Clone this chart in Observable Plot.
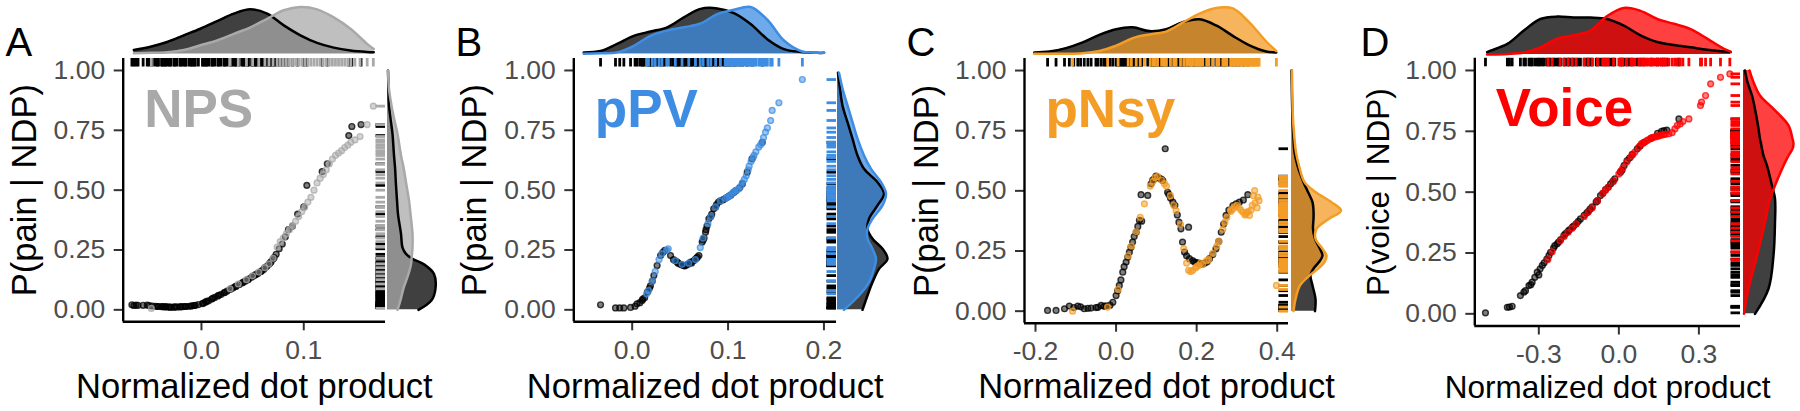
<!DOCTYPE html>
<html><head><meta charset="utf-8">
<script src="https://cdn.jsdelivr.net/npm/d3@7"></script>
<script src="https://cdn.jsdelivr.net/npm/@observablehq/plot@0.6"></script>
<style>
html,body{margin:0;padding:0;background:#fff;}
#fig{position:relative;width:1800px;height:411px;overflow:hidden;background:#fff;}
#fig > svg{position:absolute;}
</style></head><body><div id="fig"></div>
<script>
// ---------------- DATA ----------------
const yTicks = [0, 0.25, 0.5, 0.75, 1];
const xLabel = "Normalized dot product";

// Panel A: NPS
const npsXTicks = [0, 0.1];
const npsBlackX = [-0.068,-0.066,-0.064,-0.062,-0.053,-0.051,-0.048,-0.045,-0.042,-0.039,-0.036,-0.033,-0.030,-0.027,-0.024,-0.021,-0.018,-0.015,-0.012,-0.009,-0.006,-0.003,0.001,0.004,0.007,0.010,0.013,0.016,0.019,0.022,0.025,0.028,0.031,0.034,0.037,0.040,0.043,0.046,0.049,0.052,0.055,0.058,0.061,0.064,0.067,0.070,0.073,0.076,0.079,0.085,0.094,0.100,0.103,0.118,0.123,0.144,0.147,0.156,-0.057,-0.035,-0.020,-0.010,0.002,0.017,0.029,0.041,0.053,0.059,0.066,0.071,0.082,0.089,-0.043,-0.038,-0.031,-0.026,-0.016,-0.007,0.005,0.011,0.023,0.033,0.045,0.050,0.062,0.068];
const npsBlackY = [0.021,0.018,0.020,0.019,0.020,0.018,0.016,0.015,0.014,0.013,0.012,0.012,0.011,0.011,0.012,0.012,0.013,0.014,0.015,0.017,0.019,0.022,0.026,0.032,0.038,0.045,0.052,0.058,0.064,0.071,0.078,0.085,0.092,0.099,0.106,0.113,0.120,0.128,0.136,0.144,0.152,0.160,0.170,0.182,0.196,0.212,0.232,0.255,0.275,0.335,0.400,0.430,0.520,0.578,0.610,0.728,0.766,0.774,0.019,0.013,0.013,0.016,0.028,0.061,0.089,0.116,0.147,0.163,0.190,0.218,0.305,0.350,0.014,0.013,0.011,0.012,0.014,0.018,0.035,0.048,0.073,0.097,0.125,0.140,0.176,0.200];
const npsColorX = [-0.049,0.028,0.036,0.044,0.050,0.056,0.062,0.066,0.070,0.074,0.077,0.080,0.083,0.086,0.089,0.092,0.095,0.098,0.101,0.104,0.107,0.110,0.113,0.116,0.119,0.122,0.125,0.128,0.131,0.134,0.137,0.140,0.143,0.146,0.150,0.155,0.162,0.168];
const npsColorY = [0.006,0.088,0.108,0.126,0.142,0.158,0.176,0.192,0.215,0.262,0.285,0.300,0.318,0.335,0.352,0.370,0.390,0.410,0.430,0.450,0.470,0.500,0.530,0.550,0.565,0.585,0.610,0.630,0.645,0.655,0.665,0.678,0.688,0.700,0.710,0.724,0.774,0.851];
const npsTopX = [-0.0661,-0.0498,-0.0336,-0.0173,-0.0010,0.0153,0.0316,0.0479,0.0642,0.0805,0.0967,0.1130,0.1293,0.1456,0.1619,0.1684];
const npsTopBlack = [0.08,0.15,0.25,0.39,0.53,0.69,0.85,0.94,0.85,0.60,0.39,0.23,0.13,0.07,0.04,0.035];
const npsTopColor = [0.01,0.02,0.035,0.08,0.18,0.28,0.42,0.56,0.74,0.92,0.99,0.94,0.77,0.53,0.21,0.10];
const npsRightY = [0.0,0.04,0.09,0.15,0.19,0.213,0.234,0.26,0.317,0.40,0.457,0.52,0.596,0.645,0.735,0.80,0.854,0.923,1.0];
const npsRightBlack = [0.62,0.88,0.96,0.93,0.73,0.50,0.37,0.30,0.27,0.21,0.19,0.17,0.15,0.13,0.10,0.06,0.03,0.02,0.01];
const npsRightColor = [0.20,0.26,0.32,0.42,0.47,0.48,0.49,0.50,0.50,0.46,0.43,0.38,0.32,0.27,0.20,0.13,0.08,0.03,0.01];

// Panel B: pPV
const ppvXTicks = [0, 0.1, 0.2];
const ppvBlackX = [-0.033,-0.0174,-0.013,-0.0087,-0.0017,0.003,0.005,0.008,0.0104,0.013,0.016,0.019,0.0226,0.026,0.0296,0.032,0.034,0.040,0.043,0.047,0.050,0.054,0.057,0.061,0.064,0.067,0.0696,0.073,0.075,0.0765,0.078,0.080,0.083,0.085,0.088,0.090,0.095,0.099,0.103,0.108,0.112,0.115,0.120,0.125,0.1357,0.045,0.052,0.059,0.066,0.092,0.097,0.101,0.011,0.018,0.021,0.048,0.055,0.062,0.068,0.074,0.077,0.082,0.087,0.106];
const ppvBlackY = [0.021,0.008,0.008,0.008,0.010,0.015,0.025,0.030,0.039,0.050,0.075,0.100,0.143,0.185,0.227,0.240,0.248,0.227,0.210,0.199,0.190,0.185,0.188,0.199,0.205,0.215,0.227,0.283,0.300,0.324,0.350,0.380,0.400,0.422,0.440,0.450,0.460,0.470,0.480,0.498,0.510,0.527,0.575,0.631,0.700,0.205,0.187,0.192,0.212,0.455,0.465,0.475,0.045,0.090,0.120,0.195,0.184,0.196,0.220,0.292,0.335,0.390,0.430,0.490];
const ppvColorX = [0.015,0.017,0.021,0.024,0.028,0.031,0.036,0.0376,0.045,0.052,0.059,0.066,0.071,0.074,0.079,0.082,0.087,0.092,0.097,0.101,0.105,0.109,0.113,0.117,0.119,0.122,0.124,0.127,0.129,0.132,0.134,0.1357,0.137,0.139,0.141,0.1444,0.146,0.153,0.1775,0.099,0.103,0.107,0.111,0.115,0.121,0.126];
const ppvColorY = [0.067,0.080,0.120,0.160,0.210,0.235,0.250,0.255,0.205,0.190,0.195,0.210,0.260,0.300,0.360,0.390,0.430,0.455,0.465,0.475,0.490,0.500,0.515,0.545,0.560,0.600,0.620,0.645,0.660,0.680,0.690,0.700,0.720,0.742,0.760,0.791,0.833,0.865,0.962,0.470,0.480,0.495,0.505,0.530,0.585,0.635];
const ppvTopX = [-0.0505,-0.0331,-0.0157,0.0017,0.0191,0.0365,0.0539,0.0713,0.0887,0.1061,0.1235,0.1409,0.1583,0.1757,0.1931,0.2001];
const ppvTopBlack = [0.03,0.06,0.21,0.38,0.47,0.56,0.77,0.95,0.96,0.86,0.63,0.31,0.10,0.04,0.02,0.02];
const ppvTopColor = [0.0,0.01,0.03,0.17,0.38,0.49,0.56,0.64,0.84,0.93,0.99,0.72,0.28,0.06,0.02,0.02];
const ppvRightY = [0.0,0.06,0.115,0.171,0.213,0.255,0.297,0.338,0.38,0.436,0.485,0.533,0.589,0.645,0.715,0.784,0.854,0.924,0.99];
const ppvRightBlack = [0.50,0.60,0.70,0.83,1.00,0.90,0.70,0.60,0.63,0.80,0.93,0.80,0.53,0.40,0.30,0.20,0.10,0.05,0.01];
const ppvRightColor = [0.13,0.43,0.63,0.73,0.77,0.70,0.60,0.60,0.70,0.90,0.97,0.87,0.67,0.53,0.40,0.30,0.20,0.10,0.03];

// Panel C: pNsy
const pnsyXTicks = [-0.2, 0, 0.2, 0.4];
const pnsyBlackX = [-0.170,-0.149,-0.128,-0.116,-0.095,-0.079,-0.062,-0.050,-0.037,-0.025,-0.008,0.000,0.008,0.012,0.0166,0.025,0.033,0.041,0.045,0.050,0.058,0.0636,0.062,0.0786,0.087,0.095,0.099,0.105,0.110,0.116,0.122,0.128,0.135,0.141,0.156,0.161,0.180,0.165,0.170,0.175,0.182,0.190,0.195,0.205,0.211,0.220,0.232,0.248,0.261,0.273,0.280,0.290,0.306,0.327,-0.105,-0.088,-0.070,-0.045,-0.030,-0.015,0.004,0.020,0.029,0.037,0.054,0.091,0.113,0.131,0.146,0.152,0.199,0.215,0.226,0.240,0.255,0.267,0.298,0.316];
const pnsyBlackY = [0.003,0.003,0.010,0.021,0.021,0.010,0.013,0.015,0.024,0.022,0.037,0.065,0.107,0.130,0.162,0.204,0.245,0.287,0.310,0.328,0.377,0.374,0.484,0.481,0.529,0.550,0.561,0.555,0.550,0.543,0.675,0.494,0.470,0.453,0.370,0.342,0.349,0.287,0.245,0.230,0.218,0.210,0.204,0.200,0.197,0.200,0.218,0.259,0.328,0.398,0.420,0.439,0.453,0.484,0.015,0.018,0.012,0.016,0.020,0.025,0.085,0.185,0.225,0.266,0.352,0.545,0.548,0.485,0.440,0.400,0.202,0.196,0.205,0.235,0.290,0.362,0.446,0.462];
const pnsyColorX = [-0.108,-0.021,0.005,0.030,0.060,0.0704,0.085,0.097,0.103,0.113,0.125,0.135,0.149,0.160,0.168,0.175,0.180,0.185,0.190,0.197,0.200,0.205,0.210,0.215,0.225,0.230,0.240,0.255,0.265,0.275,0.285,0.285,0.295,0.300,0.305,0.310,0.315,0.320,0.322,0.325,0.331,0.335,0.338,0.344,0.345,0.350,0.352,0.355,0.398,0.038,0.050,0.092,0.120,0.143,0.250,0.270,0.290,0.328,0.341];
const pnsyColorY = [0.000,0.017,0.090,0.230,0.390,0.446,0.520,0.555,0.560,0.545,0.520,0.480,0.418,0.360,0.260,0.200,0.170,0.165,0.169,0.180,0.185,0.190,0.200,0.195,0.210,0.215,0.240,0.290,0.340,0.390,0.420,0.415,0.435,0.440,0.430,0.420,0.411,0.400,0.405,0.410,0.398,0.420,0.440,0.501,0.450,0.430,0.474,0.460,0.107,0.270,0.330,0.540,0.530,0.440,0.270,0.370,0.425,0.415,0.480];
const pnsyTopX = [-0.2030,-0.1657,-0.1243,-0.0829,-0.0415,0.0,0.0414,0.0828,0.1242,0.1656,0.207,0.2484,0.2898,0.3312,0.3726,0.3975];
const pnsyTopBlack = [0.03,0.05,0.12,0.24,0.40,0.52,0.56,0.48,0.52,0.67,0.73,0.60,0.38,0.18,0.05,0.03];
const pnsyTopColor = [0.0,0.0,0.0,0.01,0.06,0.17,0.33,0.41,0.47,0.66,0.85,0.97,0.96,0.66,0.26,0.06];
const pnsyRightY = [0.0,0.05,0.107,0.148,0.18,0.204,0.231,0.259,0.301,0.342,0.384,0.418,0.453,0.495,0.536,0.605,0.66,0.716,0.8,1.0];
const pnsyRightBlack = [0.47,0.48,0.42,0.38,0.45,0.55,0.62,0.57,0.47,0.43,0.44,0.44,0.42,0.33,0.24,0.12,0.06,0.04,0.02,0.0];
const pnsyRightColor = [0.04,0.08,0.17,0.36,0.55,0.66,0.70,0.62,0.48,0.50,0.75,0.99,0.80,0.48,0.26,0.15,0.09,0.06,0.03,0.01];

// Panel D: Voice
const voiceXTicks = [-0.3, 0, 0.3];
const voiceBlackX = [-0.500,-0.418,-0.410,-0.400,-0.369,-0.356,-0.337,-0.325,-0.315,-0.306,-0.295,-0.287,-0.270,-0.256,-0.245,-0.231,-0.218,-0.206,-0.190,-0.175,-0.160,-0.144,-0.130,-0.115,-0.100,-0.085,-0.069,-0.050,-0.031,-0.015,0.006,0.020,0.031,0.050,0.069,0.094,0.120,0.145,0.160,0.169,0.180,0.225,-0.280,-0.240,-0.200,-0.170,-0.120,-0.080,-0.040,-0.350,-0.330,-0.300,-0.262,-0.226,-0.185,-0.152,-0.108,-0.060,-0.022,0.012,0.040,0.080];
const voiceBlackY = [0.004,0.027,0.028,0.031,0.075,0.089,0.116,0.130,0.150,0.171,0.185,0.199,0.225,0.253,0.270,0.288,0.305,0.322,0.340,0.355,0.370,0.390,0.405,0.420,0.440,0.460,0.486,0.510,0.534,0.555,0.582,0.610,0.630,0.655,0.678,0.705,0.720,0.742,0.750,0.753,0.755,0.801,0.210,0.280,0.330,0.360,0.415,0.465,0.520,0.095,0.120,0.160,0.240,0.295,0.345,0.380,0.430,0.495,0.545,0.590,0.640,0.690];
const voiceColorX = [-0.266,-0.250,-0.220,-0.190,-0.160,-0.130,-0.100,-0.080,-0.060,-0.040,-0.020,0.000,0.015,0.030,0.045,0.060,0.075,0.085,0.090,0.105,0.110,0.120,0.131,0.140,0.145,0.160,0.175,0.1875,0.200,0.210,0.219,0.230,0.240,0.2625,0.306,0.310,0.325,0.344,0.381,0.416,-0.205,-0.175,-0.115,-0.050,0.008,0.052,0.098,0.125,0.152,0.168];
const voiceColorY = [0.223,0.255,0.300,0.335,0.370,0.400,0.435,0.465,0.495,0.520,0.545,0.575,0.600,0.625,0.645,0.665,0.685,0.700,0.700,0.712,0.715,0.722,0.726,0.728,0.730,0.735,0.738,0.740,0.745,0.760,0.774,0.780,0.790,0.801,0.856,0.870,0.897,0.945,0.972,0.986,0.318,0.352,0.418,0.508,0.588,0.655,0.706,0.724,0.732,0.736];
const voiceTopX = [-0.494,-0.481,-0.418,-0.356,-0.294,-0.231,-0.169,-0.106,-0.044,0.019,0.081,0.144,0.206,0.269,0.331,0.394,0.419];
const voiceTopBlack = [0.05,0.08,0.22,0.50,0.74,0.79,0.77,0.77,0.74,0.60,0.40,0.26,0.20,0.15,0.10,0.06,0.05];
const voiceTopColor = [0.0,0.0,0.01,0.04,0.15,0.33,0.40,0.50,0.80,0.97,0.91,0.74,0.64,0.53,0.33,0.12,0.06];
const voiceRightY = [0.0,0.103,0.24,0.376,0.473,0.527,0.609,0.65,0.678,0.70,0.719,0.774,0.842,0.897,0.952,1.0];
const voiceRightBlack = [0.23,0.50,0.60,0.63,0.63,0.57,0.47,0.40,0.37,0.35,0.33,0.29,0.23,0.17,0.08,0.03];
const voiceRightColor = [0.01,0.10,0.27,0.43,0.53,0.63,0.80,0.90,0.98,1.00,0.98,0.90,0.60,0.33,0.20,0.12];

// ---------------- CONFIG ----------------
const FONT = '"Liberation Sans", Arial, Helvetica, sans-serif';
const W = 450, H = 411;
const panels = [
  {letter:"A", name:"NPS",  ylab:"P(pain | NDP)",  color:"#A9A9A9", xTicks:npsXTicks,
   bx:npsBlackX, by:npsBlackY, cx:npsColorX, cy:npsColorY,
   topX:npsTopX, topB:npsTopBlack, topC:npsTopColor, rY:npsRightY, rB:npsRightBlack, rC:npsRightColor},
  {letter:"B", name:"pPV",  ylab:"P(pain | NDP)",  color:"#3E8DE3", xTicks:ppvXTicks,
   bx:ppvBlackX, by:ppvBlackY, cx:ppvColorX, cy:ppvColorY,
   topX:ppvTopX, topB:ppvTopBlack, topC:ppvTopColor, rY:ppvRightY, rB:ppvRightBlack, rC:ppvRightColor},
  {letter:"C", name:"pNsy", ylab:"P(pain | NDP)",  color:"#F39C26", xTicks:pnsyXTicks,
   bx:pnsyBlackX, by:pnsyBlackY, cx:pnsyColorX, cy:pnsyColorY,
   topX:pnsyTopX, topB:pnsyTopBlack, topC:pnsyTopColor, rY:pnsyRightY, rB:pnsyRightBlack, rC:pnsyRightColor},
  {letter:"D", name:"Voice", ylab:"P(voice | NDP)", color:"#FF0000", xTicks:voiceXTicks,
   bx:voiceBlackX, by:voiceBlackY, cx:voiceColorX, cy:voiceColorY,
   topX:voiceTopX, topB:voiceTopBlack, topC:voiceTopColor, rY:voiceRightY, rB:voiceRightBlack, rC:voiceRightColor}
];
const layout = [
  {left:0,    fl:122.7, fr:385, ft:58,   fb:321.3, xDomain:[-0.0765,0.1799], gap:1.7, title:34.5, letterX:5,  ylabX:35, topBase:53.3},
  {left:450,  fl:123.3, fr:386, ft:58,   fb:321.3, xDomain:[-0.0609,0.2131], gap:0.7, title:34.5, letterX:5,  ylabX:35, topBase:53.3},
  {left:900,  fl:124,   fr:388, ft:58,   fb:322.7, xDomain:[-0.2273,0.428],  gap:2.7, title:34.5, letterX:6,  ylabX:37, topBase:53.3},
  {left:1350, fl:124.3, fr:390, ft:57.8, fb:325.5, xDomain:[-0.54,0.456],    gap:3.3, title:31.5, letterX:10, ylabX:38, topBase:54}
];

const pts = (xs, ys) => xs.map((x, i) => ({x, y: ys[i]})).filter(d => d.y != null);
const dens = (ks, vs, key) => ks.map((k, i) => ({[key]: k, v: vs[i]})).filter(d => d.v != null);
const baseStyle = {background: "transparent", overflow: "visible", fontFamily: FONT};
const fig = document.getElementById("fig");

panels.forEach((p, i) => {
  const L = layout[i];
  const fw = L.fr - L.fl, fh = L.fb - L.ft;
  const black = pts(p.bx, p.by), col = pts(p.cx, p.cy);
  const dotOpts = (c) => ({x: "x", y: "y", r: 2.9, fill: c, fillOpacity: 0.5, stroke: c, strokeOpacity: 0.75, strokeWidth: 1.4});
  const rugW = 2.8;

  const main = Plot.plot({
    width: W, height: H,
    marginLeft: L.fl, marginRight: W - L.fr, marginTop: L.ft, marginBottom: H - L.fb,
    style: baseStyle,
    x: {domain: L.xDomain, label: null},
    y: {domain: [-0.05, 1.05], label: null},
    marks: [
      Plot.axisX(p.xTicks, {tickSize: 9, tickPadding: 9, strokeWidth: 2, stroke: "#333", fill: "#4d4d4d", fontSize: 26.5, tickFormat: d => d.toFixed(1), label: null}),
      Plot.axisY(yTicks, {tickSize: 9, tickPadding: 9, strokeWidth: 2, stroke: "#333", fill: "#4d4d4d", fontSize: 26.5, tickFormat: d => d.toFixed(2), label: null}),
      Plot.ruleX([L.xDomain[0]], {stroke: "black", strokeWidth: 2.4}),
      Plot.ruleY([-0.05], {stroke: "black", strokeWidth: 2.4}),
      Plot.tickX(p.bx, {x: d => d, stroke: "black", strokeWidth: rugW, insetBottom: fh - 8.5}),
      Plot.tickX(p.cx, {x: d => d, stroke: p.color, strokeWidth: rugW, insetBottom: fh - 8.5}),
      Plot.tickY(p.by, {y: d => d, stroke: "black", strokeWidth: rugW, insetLeft: fw - 9.5}),
      Plot.tickY(p.cy, {y: d => d, stroke: p.color, strokeWidth: rugW, insetLeft: fw - 9.5}),
      Plot.dot(black, dotOpts("black")),
      Plot.dot(col, dotOpts(p.color)),
      Plot.text([p.name], {text: d => d, frameAnchor: "top-left", dx: 21, dy: 68, lineAnchor: "bottom", textAnchor: "start", fontSize: 53, fontWeight: "bold", fill: p.color}),
      Plot.text([p.letter], {text: d => d, frameAnchor: "top-left", dx: L.letterX - L.fl, dy: 55 - L.ft, lineAnchor: "bottom", textAnchor: "start", fontSize: 40, fill: "black"}),
      Plot.text([p.ylab], {text: d => d, frameAnchor: "left", rotate: -90, dx: L.ylabX - L.fl, lineAnchor: "bottom", textAnchor: "middle", fontSize: L.title, fill: "black"}),
      Plot.text([xLabel], {text: d => d, frameAnchor: "bottom", dy: 397 - L.fb, lineAnchor: "bottom", textAnchor: "middle", fontSize: L.title, fill: "black"})
    ]
  });
  main.style.left = L.left + "px"; main.style.top = "0px";
  fig.appendChild(main);

  // top marginal density
  const tB = dens(p.topX, p.topB, "x"), tC = dens(p.topX, p.topC, "x");
  const curve = "catmull-rom";
  const top = Plot.plot({
    width: W, height: L.ft,
    marginLeft: L.fl, marginRight: W - L.fr, marginTop: 6, marginBottom: L.ft - L.topBase,
    style: baseStyle,
    x: {domain: L.xDomain, axis: null}, y: {domain: [0, 1], axis: null},
    marks: [
      Plot.areaY(tB, {x: "x", y: "v", fill: "black", fillOpacity: 0.75, curve}),
      Plot.areaY(tC, {x: "x", y: "v", fill: p.color, fillOpacity: 0.75, curve}),
      Plot.lineY(tB, {x: "x", y: "v", stroke: "black", strokeWidth: 2.5, curve}),
      Plot.lineY(tC, {x: "x", y: "v", stroke: p.color, strokeWidth: 2.5, curve})
    ]
  });
  top.style.left = L.left + "px"; top.style.top = "0px";
  fig.appendChild(top);

  // right marginal density
  const rB = dens(p.rY, p.rB, "y"), rC = dens(p.rY, p.rC, "y");
  const RW = 60;
  const right = Plot.plot({
    width: RW, height: H,
    marginLeft: 0, marginRight: RW - 50, marginTop: L.ft, marginBottom: H - L.fb,
    style: baseStyle,
    x: {domain: [0, 1], axis: null}, y: {domain: [-0.05, 1.05], axis: null},
    marks: [
      Plot.areaX(rB, {y: "y", x: "v", fill: "black", fillOpacity: 0.75, curve}),
      Plot.areaX(rC, {y: "y", x: "v", fill: p.color, fillOpacity: 0.75, curve}),
      Plot.lineX(rB, {y: "y", x: "v", stroke: "black", strokeWidth: 2.5, curve}),
      Plot.lineX(rC, {y: "y", x: "v", stroke: p.color, strokeWidth: 2.5, curve})
    ]
  });
  right.style.left = (L.left + L.fr + L.gap) + "px"; right.style.top = "0px";
  fig.appendChild(right);
});
</script>
</body></html>
